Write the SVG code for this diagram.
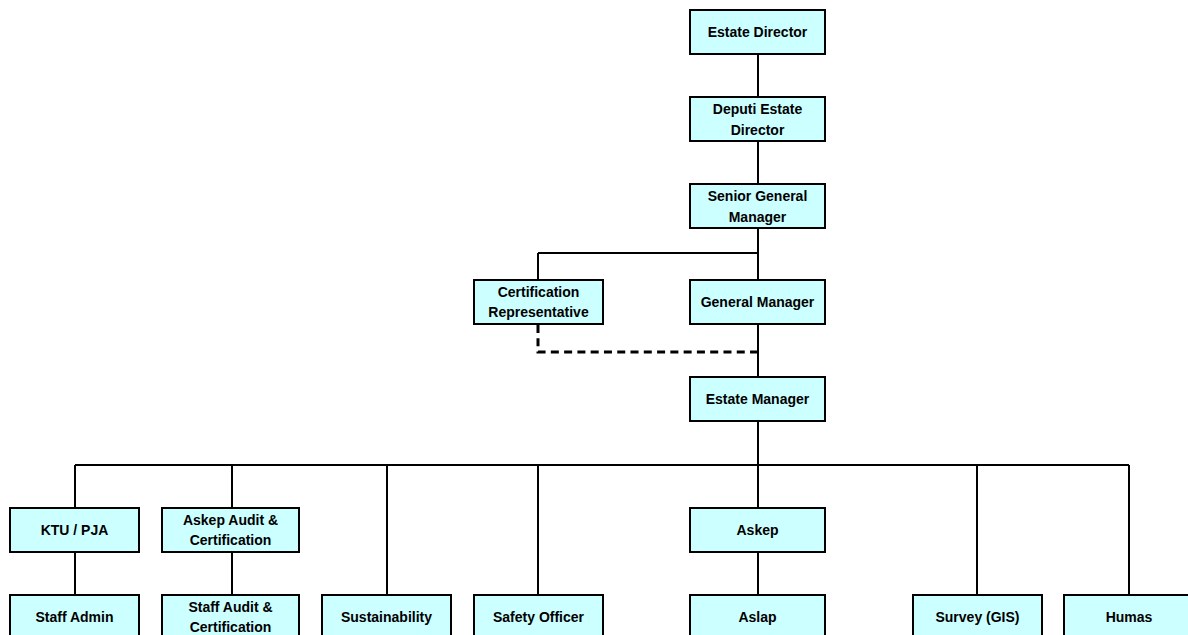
<svg xmlns="http://www.w3.org/2000/svg" width="1188" height="635" viewBox="0 0 1188 635">
<style>
.b{fill:#CCFFFF;stroke:#000;stroke-width:2}
.t{font-family:"Liberation Sans",Arial,sans-serif;font-weight:bold;font-size:14px;text-anchor:middle;fill:#000}
.c{stroke:#000;stroke-width:2;fill:none}
.d{stroke:#000;stroke-width:3;fill:none;stroke-dasharray:8 5.28}
</style>
<rect width="1188" height="635" fill="#fff"/>
<g id="connectors">
<path class="c" d="M758 54V97M758 141V184M758 228V279M758 324V377M758 421V508M758 552V595M538 253H758M538 253V279"/>
<path class="d" d="M538 325V352H758"/>
<path class="c" d="M75 465H1129M75 465V508M232 465V508M75 552V595M232 552V595M387 465V595M538 465V595M977 465V595M1129 465V595"/>
</g>
<g id="estate-director"><rect class="b" x="690" y="10" width="135" height="44"/><text class="t" x="757.5" y="37">Estate Director</text></g>
<g id="deputi-estate-director"><rect class="b" x="690" y="97" width="135" height="44"/><text class="t" x="757.5" y="114">Deputi Estate</text><text class="t" x="757.5" y="135">Director</text></g>
<g id="senior-general-manager"><rect class="b" x="690" y="184" width="135" height="44"/><text class="t" x="757.5" y="201">Senior General</text><text class="t" x="757.5" y="222">Manager</text></g>
<g id="certification-representative"><rect class="b" x="474" y="280" width="129" height="44"/><text class="t" x="538.5" y="297">Certification</text><text class="t" x="538.5" y="317">Representative</text></g>
<g id="general-manager"><rect class="b" x="690" y="280" width="135" height="44"/><text class="t" x="757.5" y="307">General Manager</text></g>
<g id="estate-manager"><rect class="b" x="690" y="377" width="135" height="44"/><text class="t" x="757.5" y="404">Estate Manager</text></g>
<g id="ktu-pja"><rect class="b" x="10" y="508" width="129" height="44"/><text class="t" x="74.5" y="535">KTU / PJA</text></g>
<g id="askep-audit"><rect class="b" x="162" y="508" width="137" height="44"/><text class="t" x="230.5" y="525">Askep Audit &amp;</text><text class="t" x="230.5" y="545">Certification</text></g>
<g id="askep"><rect class="b" x="690" y="508" width="135" height="44"/><text class="t" x="757.5" y="535">Askep</text></g>
<g id="staff-admin"><rect class="b" x="10" y="595" width="129" height="50"/><text class="t" x="74.5" y="622">Staff Admin</text></g>
<g id="staff-audit"><rect class="b" x="162" y="595" width="137" height="50"/><text class="t" x="230.5" y="612">Staff Audit &amp;</text><text class="t" x="230.5" y="632">Certification</text></g>
<g id="sustainability"><rect class="b" x="322" y="595" width="129" height="50"/><text class="t" x="386.5" y="622">Sustainability</text></g>
<g id="safety-officer"><rect class="b" x="474" y="595" width="129" height="50"/><text class="t" x="538.5" y="622">Safety Officer</text></g>
<g id="aslap"><rect class="b" x="690" y="595" width="135" height="50"/><text class="t" x="757.5" y="622">Aslap</text></g>
<g id="survey-gis"><rect class="b" x="913" y="595" width="129" height="50"/><text class="t" x="977.5" y="622">Survey (GIS)</text></g>
<g id="humas"><rect class="b" x="1064" y="595" width="130" height="50"/><text class="t" x="1129" y="622">Humas</text></g>
</svg>
